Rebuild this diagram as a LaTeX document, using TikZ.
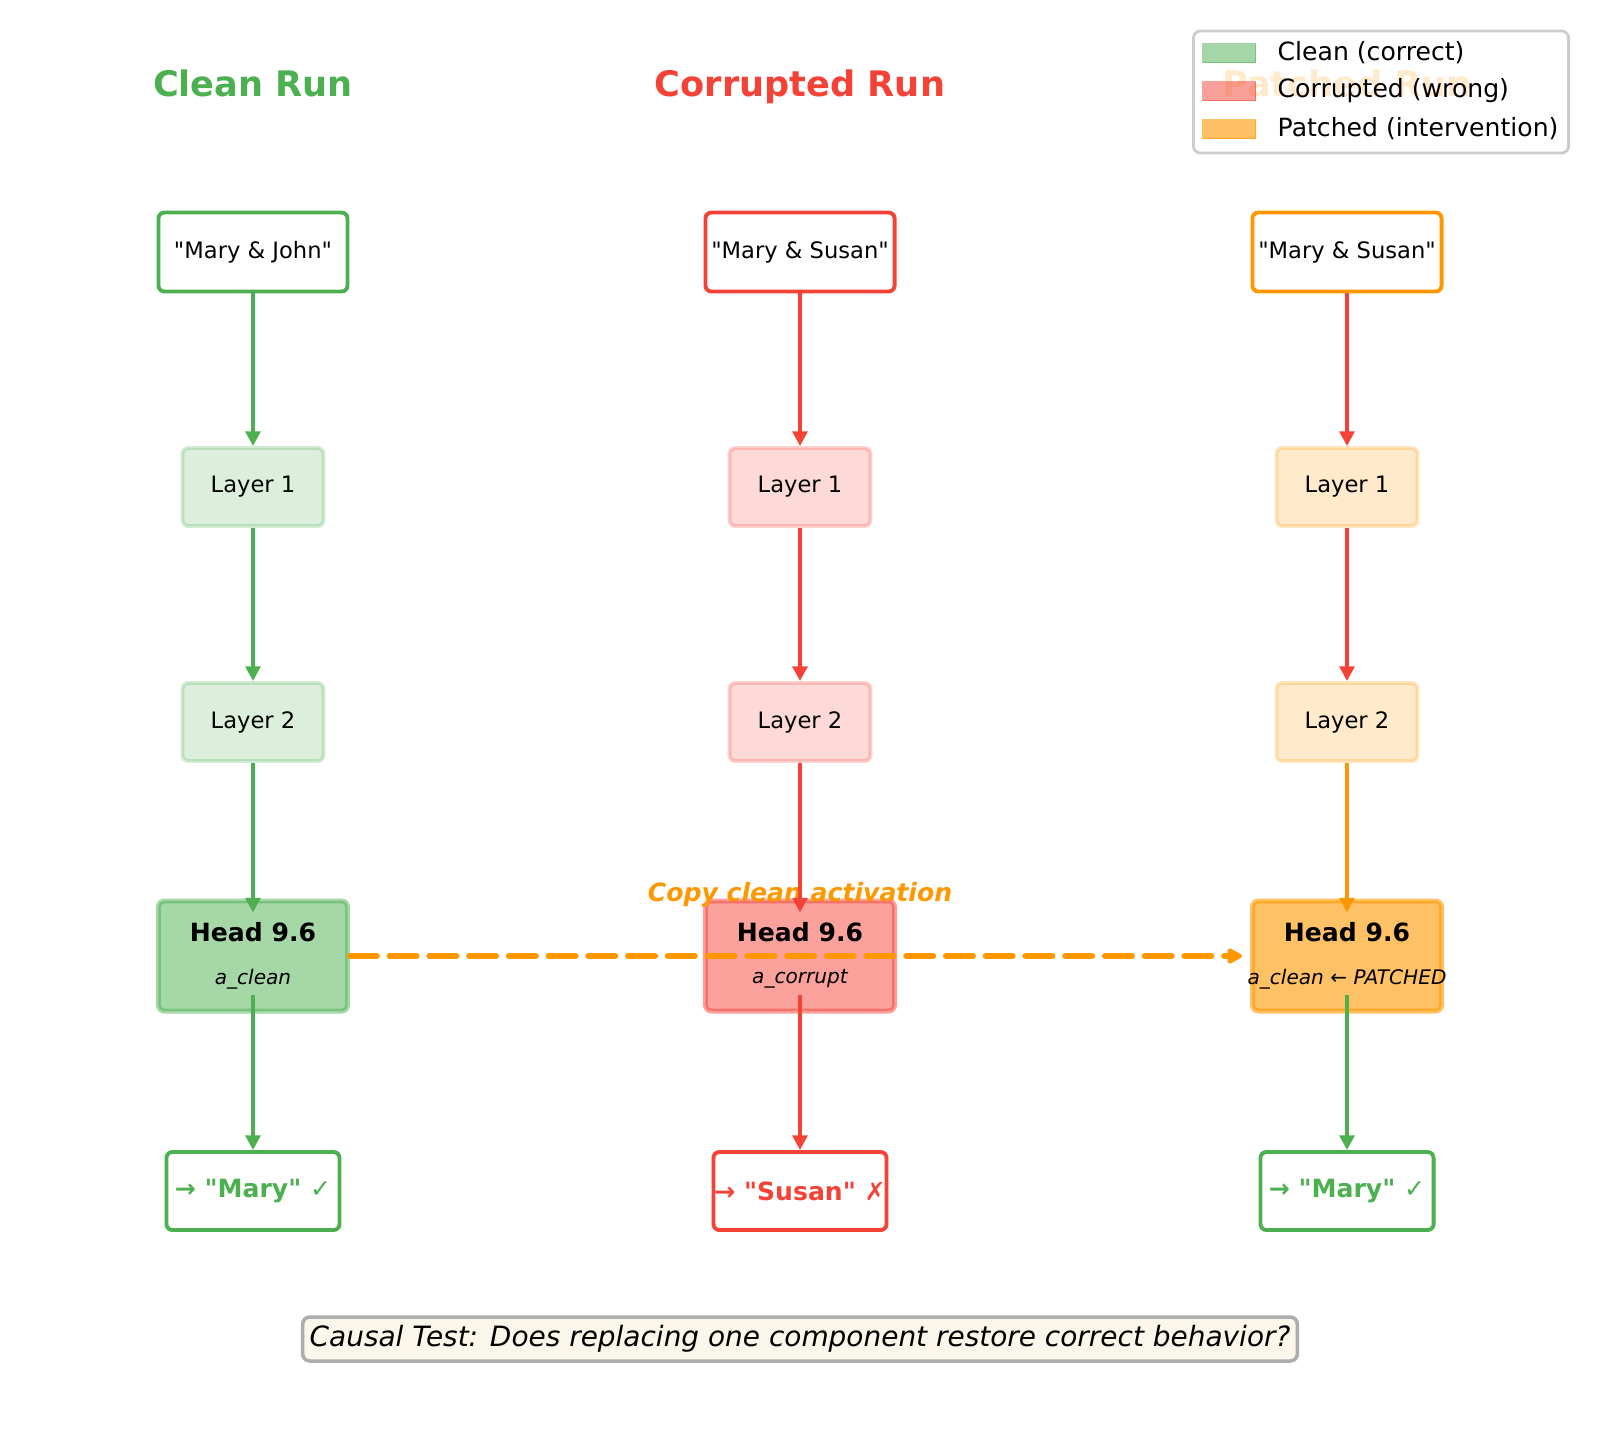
\documentclass[tikz,border=0pt]{standalone}
\usepackage{fontspec}
\setmainfont{DejaVu Sans}[Ligatures=TeXOff]
\usetikzlibrary{arrows.meta}
\definecolor{clean}{HTML}{4CAF50}
\definecolor{corrupt}{HTML}{F44336}
\definecolor{patch}{HTML}{FF9800}
\definecolor{notefill}{HTML}{FAF6EA}
\newcommand\fsz[1]{\fontsize{#1}{#1}\selectfont}

\begin{document}
\begin{tikzpicture}[x=0.01cm,y=-0.01cm,
  title/.style={font=\fsz{10}\bfseries,anchor=base,inner sep=0pt},
  inbox/.style={draw=#1,fill=white,line width=1.1pt,rounded corners=1.7pt,
    minimum width=1.89cm,minimum height=0.79cm,inner sep=0pt,font=\fsz{6.43}},
  layer/.style={draw=#1,fill=#1,fill opacity=0.2,draw opacity=0.25,text opacity=1,
    line width=1.1pt,rounded corners=1.7pt,minimum width=1.41cm,minimum height=0.78cm,
    inner sep=0pt,font=\fsz{6.43}},
  head/.style 2 args={draw=#1,fill=#1,fill opacity=#2,draw opacity=#2,
    line width=1.4pt,rounded corners=1.7pt,minimum width=1.89cm,minimum height=1.10cm,
    inner sep=0pt},
  headtxt/.style={font=\fsz{7.14}\bfseries,inner sep=0pt},
  acttxt/.style={font=\fsz{5.71}\itshape,inner sep=0pt},
  outbox/.style={draw=#1,text=#1,fill=white,line width=1.1pt,rounded corners=1.7pt,
    minimum width=1.73cm,minimum height=0.78cm,inner sep=0pt,font=\fsz{7.14}\bfseries},
  flow/.style={draw=#1,line width=1.1pt,-{Triangle[length=4.2pt,width=4.2pt]}},
  copyarrow/.style={draw=patch,line width=1.8pt,line cap=round,
    dash pattern=on 7.6pt off 3.7pt,-{Triangle[length=4.8pt,width=4.8pt,round]}},
  swatch/.style 2 args={draw=#1,fill=#1,fill opacity=#2,draw opacity=#2,line width=0.5pt,
    minimum width=0.53cm,minimum height=0.19cm,inner sep=0pt},
  legtext/.style={anchor=west,font=\fsz{7.14},inner sep=0pt}]
\useasboundingbox (0,0) rectangle (1600,1444);

% column titles
\node[title,text=clean] (tclean) at (253,96) {Clean Run};
\node[title,text=corrupt] (tcorrupt) at (800,96) {Corrupted Run};
\node[title,text=patch] (tpatch) at (1347,96) {Patched Run};

% clean run
\node[inbox=clean] (inc) at (253,252) {"Mary \& John"};
\node[layer=clean] (l1c) at (253,487) {Layer 1};
\node[layer=clean] (l2c) at (253,722) {Layer 2};
\node[head={clean}{0.5}] (hdc) at (253,956) {};
\node[headtxt] (hdct) at ([yshift=0.24cm]hdc.center) {Head 9.6};
\node[acttxt] (hdca) at ([yshift=-0.23cm]hdc.center) {a\_clean};
\node[outbox=clean] (outc) at (253,1191) {\makebox[0pt]{→ "Mary" \textmd{✓}}};

% corrupted run
\node[inbox=corrupt] (inr) at (800,252) {"Mary \& Susan"};
\node[layer=corrupt] (l1r) at (800,487) {Layer 1};
\node[layer=corrupt] (l2r) at (800,722) {Layer 2};
\node[head={corrupt}{0.5}] (hdr) at (800,956) {};
\node[headtxt] (hdrt) at ([yshift=0.24cm]hdr.center) {Head 9.6};
\node[acttxt] (hdra) at ([yshift=-0.23cm]hdr.center) {a\_corrupt};
\node[outbox=corrupt] (outr) at (800,1191) {\makebox[0pt]{→ "Susan" \textmd{✗}}};

% patched run
\node[inbox=patch] (inp) at (1347,252) {"Mary \& Susan"};
\node[layer=patch] (l1p) at (1347,487) {Layer 1};
\node[layer=patch] (l2p) at (1347,722) {Layer 2};
\node[head={patch}{0.6}] (hdp) at (1347,956) {};
\node[headtxt] (hdpt) at ([yshift=0.24cm]hdp.center) {Head 9.6};
\node[acttxt] (hdpa) at ([yshift=-0.23cm]hdp.center) {a\_clean ← PATCHED};
\node[outbox=clean] (outp) at (1347,1191) {\makebox[0pt]{→ "Mary" \textmd{✓}}};

\node[font=\fsz{7.14}\bfseries\itshape,text=patch,inner sep=0pt] (copylbl) at (800,895) {Copy clean activation};

% forward passes
\draw[flow=clean] (inc) -- (l1c);
\draw[flow=clean] (l1c) -- (l2c);
\draw[flow=clean] (l2c) -- ([yshift=-0.14cm]hdc.north);
\draw[flow=clean] ([yshift=0.19cm]hdc.south) -- (outc);
\draw[flow=corrupt] (inr) -- (l1r);
\draw[flow=corrupt] (l1r) -- (l2r);
\draw[flow=corrupt] (l2r) -- ([yshift=-0.14cm]hdr.north);
\draw[flow=corrupt] ([yshift=0.19cm]hdr.south) -- (outr);
\draw[flow=corrupt] (inp) -- (l1p);
\draw[flow=corrupt] (l1p) -- (l2p);
\draw[flow=patch] (l2p) -- ([yshift=-0.14cm]hdp.north);
\draw[flow=clean] ([yshift=0.19cm]hdp.south) -- (outp);

% patching
\draw[copyarrow] (hdc.east) -- ([xshift=-0.08cm]hdp.west);

\node[draw=black!32,fill=notefill,line width=1pt,rounded corners=2pt,
  minimum width=9.94cm,minimum height=0.44cm,inner sep=0pt,font=\fsz{7.95}\itshape]
  (causal) at (800,1339) {Causal Test: Does replacing one component restore correct behavior?};

% legend
\node[draw=black!20,fill=white,fill opacity=0.8,line width=0.8pt,rounded corners=2pt,
  minimum width=3.75cm,minimum height=1.22cm] (legend) at (1381,92) {};
\node[swatch={clean}{0.5}] (swc) at (1229,53) {};
\node[swatch={corrupt}{0.5}] (swr) at (1229,91) {};
\node[swatch={patch}{0.6}] (swp) at (1229,129) {};
\node[legtext] (lgc) at (1277,53) {Clean (correct)};
\node[legtext] (lgr) at (1277,91) {Corrupted (wrong)};
\node[legtext] (lgp) at (1277,129) {Patched (intervention)};
\end{tikzpicture}
\end{document}
